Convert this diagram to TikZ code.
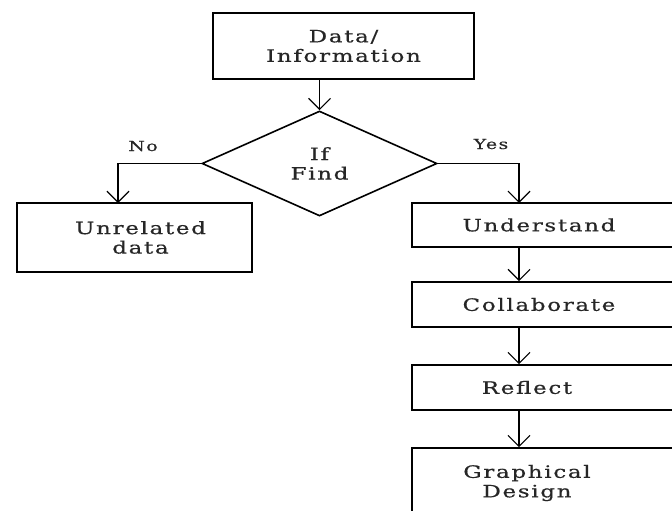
\documentclass[tikz,border=0pt]{standalone}
\usepackage{fontspec}
\setmainfont{DejaVu Serif}[FakeStretch=1.35,LetterSpace=10,FakeBold=0.6]
\usetikzlibrary{arrows.meta,shapes.geometric}
\begin{document}
\begin{tikzpicture}[x=1pt,y=-1pt,
  box/.style={draw=black,line width=1.6pt,rectangle,inner sep=0pt},
  dia/.style={draw=black,line width=1.6pt,diamond,inner sep=0pt,minimum width=235pt,minimum height=105pt},
  txt/.style={font=\fontsize{17}{19.5}\selectfont,align=center,text=black!85},
  lbl/.style={font=\fontsize{14}{16}\selectfont,text=black!85},
  conn/.style={line width=1.2pt,-{Straight Barb[length=11pt,width=22pt,line width=1.2pt]}}
]
\useasboundingbox (0,0) rectangle (672,511);
\clip (0,0) rectangle (672,511);
\node[box,minimum width=261pt,minimum height=66pt,txt] (data) at (343.5,46) {Data/\\Information};
\node[dia,txt] (find) at (319.5,163.5) {If\\Find};
\node[box,minimum width=235pt,minimum height=69pt,label={[txt,xshift=6pt]center:Unrelated\\data}] (unrel) at (134.5,237.5) {};
\node[box,minimum width=278pt,minimum height=44pt,label={[txt,xshift=-12pt]center:Understand}] (und) at (551,225) {};
\node[box,minimum width=278pt,minimum height=45pt,label={[txt,xshift=-12pt]center:Collaborate}] (col) at (551,304.5) {};
\node[box,minimum width=278pt,minimum height=45pt,label={[txt,xshift=-24pt]center:Reflect}] (ref) at (551,387.5) {};
\node[box,minimum width=278pt,minimum height=92pt,label={[txt,xshift=-24pt,yshift=11pt]center:Graphical\\Design}] (gd) at (551,494) {};
\coordinate (nodrop) at (118,203);
\coordinate (yesdrop) at (519,203);
\draw[conn] (find.north |- data.south) -- (find.north);
\draw[conn] (find.west) -| (nodrop);
\draw[conn] (find.east) -| (yesdrop);
\draw[conn] (und.south -| yesdrop) -- (col.north -| yesdrop);
\draw[conn] (col.south -| yesdrop) -- (ref.north -| yesdrop);
\draw[conn] (ref.south -| yesdrop) -- (gd.north -| yesdrop);
\node[lbl] (no) at (143,146) {No};
\node[lbl] (yes) at (491,144) {Yes};
\end{tikzpicture}
\end{document}
